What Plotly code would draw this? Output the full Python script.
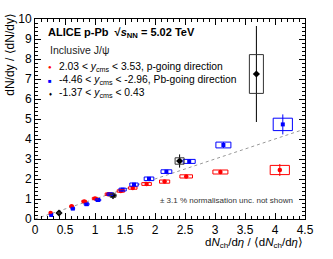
import plotly.graph_objects as go

# ---- data ----
p_x = [0.26, 0.61, 0.82, 1.00, 1.22, 1.43, 1.63, 1.86, 2.16, 2.52, 3.09, 4.08]
p_y = [0.30, 0.64, 0.88, 1.03, 1.24, 1.40, 1.55, 1.75, 1.87, 2.13, 2.35, 2.45]
p_stat = [0.05, 0.05, 0.05, 0.05, 0.05, 0.05, 0.05, 0.06, 0.06, 0.07, 0.10, 0.30]
p_sx = [0.02, 0.03, 0.04, 0.045, 0.05, 0.06, 0.07, 0.08, 0.085, 0.105, 0.125, 0.16]
p_sy = [0.02, 0.04, 0.05, 0.05, 0.06, 0.06, 0.06, 0.07, 0.08, 0.08, 0.10, 0.23]

pb_x = [0.27, 0.63, 0.86, 1.05, 1.25, 1.46, 1.65, 1.90, 2.19, 2.57, 3.14, 4.13]
pb_y = [0.20, 0.52, 0.74, 0.95, 1.24, 1.47, 1.72, 2.01, 2.37, 2.88, 3.70, 4.73]
pb_stat = [0.05, 0.05, 0.05, 0.05, 0.05, 0.05, 0.06, 0.07, 0.08, 0.10, 0.15, 0.50]
pb_sx = [0.02, 0.03, 0.04, 0.045, 0.05, 0.06, 0.07, 0.08, 0.09, 0.10, 0.125, 0.16]
pb_sy = [0.02, 0.04, 0.05, 0.05, 0.06, 0.07, 0.08, 0.09, 0.09, 0.10, 0.145, 0.31]

mid_x = [0.40, 1.30, 2.41, 3.69]
mid_y = [0.30, 1.17, 2.90, 7.25]
mid_stat = [0.12, 0.12, 0.33, 2.40]
mid_sx = [0.02, 0.05, 0.075, 0.117]
mid_sy = [0.03, 0.08, 0.16, 0.97]

diag = [0, 4.5]

x_ticks = [0, 0.5, 1, 1.5, 2, 2.5, 3, 3.5, 4, 4.5]
x_ticktext = ["0", "0.5", "1", "1.5", "2", "2.5", "3", "3.5", "4", "4.5"]

FONT = "Liberation Sans, Arial, sans-serif"

fig = go.Figure()

# reference line y = x
fig.add_trace(go.Scatter(x=diag, y=diag, mode="lines",
                         line=dict(color="#999999", width=1, dash="dot"),
                         showlegend=False, hoverinfo="skip"))

series = [
    (p_x, p_y, p_stat, p_sx, p_sy, "#ff0000", "circle", 4.5),
    (pb_x, pb_y, pb_stat, pb_sx, pb_sy, "#0000ff", "square", 4),
    (mid_x, mid_y, mid_stat, mid_sx, mid_sy, "#000000", "diamond", 5.5),
]

shapes = []
for xs, ys, st, sx, sy, col, sym, sz in series:
    box_col = "#333333" if col == "#000000" else col
    for x, y, ex, ey in zip(xs, ys, sx, sy):
        shapes.append(dict(type="rect", xref="x", yref="y",
                           x0=x - ex, x1=x + ex, y0=y - ey, y1=y + ey,
                           line=dict(color=box_col, width=1),
                           fillcolor="rgba(0,0,0,0)", layer="above"))

for xs, ys, st, sx, sy, col, sym, sz in series:
    fig.add_trace(go.Scatter(
        x=xs, y=ys, mode="markers",
        marker=dict(color=col, symbol=sym, size=sz, line=dict(width=0)),
        error_y=dict(type="data", array=st, color=col, thickness=1, width=0),
        showlegend=False))

fig.update_layout(shapes=shapes)

# layout geometry (page pixels)
W, H = 333, 259
L, R, T, B = 35, 28, 12, 40
pw, ph = W - L - R, H - T - B


def px_x(p):
    return (p - L) / pw


def px_y(p):
    return (H - B - p) / ph


axis_common = dict(showline=True, linecolor="black", linewidth=1, mirror="ticks",
                   ticks="inside", ticklen=6, tickcolor="black", tickwidth=1,
                   showgrid=False, zeroline=False,
                   tickfont=dict(family=FONT, size=12, color="black"))

fig.update_xaxes(range=[0, 4.5], tickvals=x_ticks, ticktext=x_ticktext,
                 minor=dict(dtick=0.1, ticks="inside", ticklen=3, tickcolor="black", showgrid=False),
                 **axis_common)
fig.update_yaxes(range=[0, 10], dtick=1, tick0=0,
                 minor=dict(dtick=0.2, ticks="inside", ticklen=3, tickcolor="black", showgrid=False),
                 **axis_common)

ann = []
# axis titles
ann.append(dict(text="dN/dy / ⟨dN/dy⟩", textangle=-90, xref="paper", yref="paper",
                x=px_x(10), y=px_y(4), xanchor="center", yanchor="top", showarrow=False,
                font=dict(family=FONT, size=12, color="black")))
ann.append(dict(text="d<i>N</i><sub>ch</sub>/d<i>η</i> / ⟨d<i>N</i><sub>ch</sub>/d<i>η</i>⟩",
                xref="paper", yref="paper", x=1.0, y=px_y(244), xanchor="right", yanchor="middle",
                showarrow=False, font=dict(family=FONT, size=11.5, color="black")))
# header texts
ann.append(dict(text="<b>ALICE p-Pb  √<i>s</i><sub>NN</sub> = 5.02 TeV</b>", xref="paper", yref="paper",
                x=px_x(46), y=px_y(27), xanchor="left", yanchor="middle", showarrow=False,
                font=dict(family=FONT, size=11, color="black")))
ann.append(dict(text="Inclusive J/ψ", xref="paper", yref="paper",
                x=px_x(48), y=px_y(44), xanchor="left", yanchor="middle", showarrow=False,
                font=dict(family=FONT, size=10.5, color="#222222")))
legend_rows = [
    ("#ff0000", "●", "2.03 < <i>y</i><sub>cms</sub> < 3.53, p-going direction", 62),
    ("#0000ff", "■", "-4.46 < <i>y</i><sub>cms</sub> < -2.96, Pb-going direction", 76),
    ("#000000", "♦", "-1.37 < <i>y</i><sub>cms</sub> < 0.43", 89.5),
]
for col, sym, txt, yy in legend_rows:
    ann.append(dict(text=sym, xref="paper", yref="paper",
                    x=px_x(50), y=px_y(yy), xanchor="center", yanchor="middle", showarrow=False,
                    font=dict(family=FONT, size=6, color=col)))
    ann.append(dict(text=txt, xref="paper", yref="paper",
                    x=px_x(57), y=px_y(yy), xanchor="left", yanchor="middle", showarrow=False,
                    font=dict(family=FONT, size=10.3, color="black")))
ann.append(dict(text="± 3.1 % normalisation unc. not shown", xref="paper", yref="paper",
                x=px_x(158), y=px_y(200), xanchor="left", yanchor="middle", showarrow=False,
                font=dict(family=FONT, size=8, color="#333333")))

fig.update_layout(
    width=W, height=H,
    margin=dict(l=L, r=R, t=T, b=B),
    paper_bgcolor="white", plot_bgcolor="white",
    annotations=ann, showlegend=False,
    font=dict(family=FONT, color="black"),
)

fig.write_html("out.html", config={"displayModeBar": False},
               post_script="document.body.style.margin='0';")
